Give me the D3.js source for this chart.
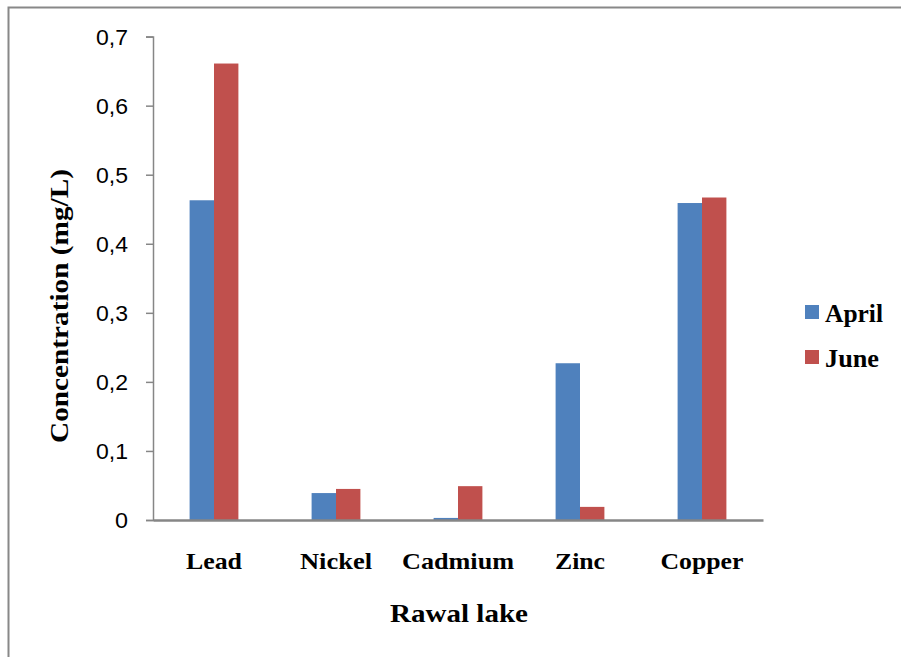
<!DOCTYPE html>
<html><head><meta charset="utf-8">
<script src="https://cdn.jsdelivr.net/npm/d3@7"></script>
<style>html,body{margin:0;padding:0;background:#fff;}svg{display:block;}</style>
</head><body>
<script>
const categories = ["Lead","Nickel","Cadmium","Zinc","Copper"];
const seriesNames = ["April","June"];
const april = [0.463, 0.039, 0.003, 0.227, 0.459];
const june  = [0.661, 0.045, 0.049, 0.019, 0.467];
const yTicks = [0,0.1,0.2,0.3,0.4,0.5,0.6,0.7];
const yTickLabels = ["0","0,1","0,2","0,3","0,4","0,5","0,6","0,7"];
const catLabelWidths = [56,72,112,50,83];
const colors = ["#4F81BD","#C0504D"];

const W=901,H=657;
const svg=d3.select("body").append("svg").attr("width",W).attr("height",H);
svg.append("rect").attr("x",8.5).attr("y",7.5).attr("width",W+10).attr("height",H+10)
  .attr("fill","#fff").attr("stroke","#888").attr("stroke-width",2);

const x0=153,x1=763,yTop=36.6,yBot=520;
const x=d3.scaleBand().domain(categories).range([x0,x1]);
const y=d3.scaleLinear().domain([0,0.7]).range([yBot,yTop]);
const bw=x.bandwidth()/5;
const data=[april,june];

// bars
data.forEach((vals,si)=>{
  svg.append("g").selectAll("rect").data(categories).join("rect")
    .attr("x",c=>x(c)+x.bandwidth()/2-bw+si*bw)
    .attr("y",(c,i)=>y(vals[i]))
    .attr("width",bw)
    .attr("height",(c,i)=>yBot-y(vals[i]))
    .attr("fill",colors[si]);
});

// y axis
const yAxis=d3.axisLeft(y).tickValues(yTicks).tickSize(7).tickFormat((d,i)=>yTickLabels[i]);
const gy=svg.append("g").attr("transform",`translate(${x0},0)`).call(yAxis);
gy.select(".domain").attr("stroke","#868686").attr("stroke-width",1.5);
gy.selectAll(".tick line").attr("stroke","#868686").attr("stroke-width",1.5);
gy.selectAll(".tick text").attr("x",-25).attr("dy","0.36em")
  .attr("font-family","Liberation Sans, Arial, sans-serif").attr("font-size",22).attr("fill","#000")
  .attr("textLength",(d,i)=>yTickLabels[i].length===1?13:32).attr("lengthAdjust","spacingAndGlyphs");

// x axis
const xAxis=d3.axisBottom(x).tickSize(0).tickFormat("");
const gx=svg.append("g").attr("transform",`translate(0,${yBot})`).call(xAxis);
gx.select(".domain").attr("stroke","#868686").attr("stroke-width",2.5);

// category labels
svg.append("g").selectAll("text").data(categories).join("text")
  .attr("x",c=>x(c)+x.bandwidth()/2).attr("y",569)
  .attr("text-anchor","middle")
  .attr("font-family","Liberation Serif, Times New Roman, serif").attr("font-weight","bold")
  .attr("font-size",24).attr("fill","#000")
  .attr("textLength",(c,i)=>catLabelWidths[i]).attr("lengthAdjust","spacingAndGlyphs")
  .text(c=>c);

// axis titles
svg.append("text").attr("x",459).attr("y",622).attr("text-anchor","middle")
  .attr("font-family","Liberation Serif, Times New Roman, serif").attr("font-weight","bold")
  .attr("font-size",25).attr("fill","#000")
  .attr("textLength",138).attr("lengthAdjust","spacingAndGlyphs").text("Rawal lake");
svg.append("text").attr("transform","translate(68,306) rotate(-90)").attr("text-anchor","middle")
  .attr("font-family","Liberation Serif, Times New Roman, serif").attr("font-weight","bold")
  .attr("font-size",25).attr("fill","#000")
  .attr("textLength",274).attr("lengthAdjust","spacingAndGlyphs").text("Concentration (mg/L)");

// legend
const legY=[305,350];
const legW=[58,54];
const lg=svg.append("g");
seriesNames.forEach((s,i)=>{
  lg.append("rect").attr("x",805).attr("y",legY[i]).attr("width",14).attr("height",14).attr("fill",colors[i]);
  lg.append("text").attr("x",825).attr("y",legY[i]+17)
    .attr("font-family","Liberation Serif, Times New Roman, serif").attr("font-weight","bold")
    .attr("font-size",25).attr("fill","#000")
    .attr("textLength",legW[i]).attr("lengthAdjust","spacingAndGlyphs").text(s);
});
</script>
</body></html>
